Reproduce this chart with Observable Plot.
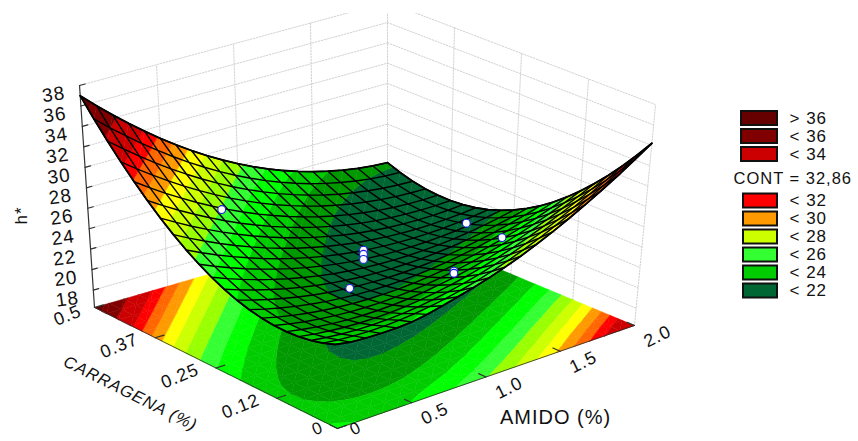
<!DOCTYPE html>
<html><head><meta charset="utf-8">
<style>html,body{margin:0;padding:0;background:#fff}svg{display:block}</style>
<script src="https://cdn.jsdelivr.net/npm/d3@7"></script>
<script src="https://cdn.jsdelivr.net/npm/@observablehq/plot@0.6"></script>
</head><body><div id="c"></div><script>
// h*: rows = carragena 0 .. 0.5, columns = amido 0 .. 2
const hGrid=[
[24.30,24.05,23.95,23.92,23.95,24.05,24.30,24.65,25.04,25.44,25.90,26.43,27.02,27.69,28.42,29.21,30.08,31.01,32.00,33.07,34.20],
[23.87,23.70,23.60,23.56,23.58,23.67,23.82,24.03,24.30,24.64,25.04,25.51,26.04,26.63,27.28,28.00,28.78,29.62,30.53,31.50,32.54],
[23.55,23.36,23.22,23.14,23.13,23.17,23.27,23.43,23.66,23.94,24.28,24.68,25.14,25.66,26.24,26.88,27.58,28.34,29.16,30.04,30.98],
[23.35,23.12,22.95,22.83,22.77,22.77,22.82,22.93,23.10,23.33,23.61,23.94,24.34,24.79,25.30,25.87,26.49,27.17,27.90,28.69,29.54],
[23.26,22.99,22.78,22.62,22.51,22.46,22.47,22.53,22.64,22.81,23.03,23.30,23.63,24.01,24.45,24.94,25.49,26.09,26.74,27.45,28.22],
[23.28,22.97,22.71,22.51,22.36,22.26,22.21,22.21,22.27,22.38,22.54,22.75,23.01,23.33,23.70,24.12,24.59,25.12,25.69,26.32,27.00],
[23.41,23.05,22.75,22.50,22.30,22.15,22.04,21.99,21.99,22.04,22.14,22.29,22.49,22.74,23.04,23.39,23.79,24.24,24.74,25.29,25.90],
[23.65,23.25,22.90,22.59,22.34,22.13,21.98,21.87,21.81,21.80,21.84,21.92,22.06,22.24,22.48,22.76,23.09,23.47,23.90,24.38,24.90],
[24.00,23.55,23.15,22.79,22.48,22.22,22.00,21.84,21.72,21.65,21.62,21.65,21.72,21.84,22.01,22.23,22.49,22.80,23.16,23.57,24.02],
[24.47,23.96,23.50,23.09,22.72,22.40,22.12,21.90,21.72,21.59,21.50,21.47,21.48,21.53,21.64,21.79,21.99,22.23,22.53,22.87,23.26],
[25.05,24.48,23.96,23.48,23.06,22.68,22.34,22.05,21.81,21.62,21.48,21.38,21.32,21.32,21.36,21.45,21.59,21.77,22.00,22.28,22.60],
[25.74,25.11,24.52,23.98,23.49,23.05,22.65,22.30,22.00,21.75,21.54,21.38,21.26,21.20,21.18,21.21,21.28,21.41,21.58,21.79,22.06],
[26.54,25.84,25.19,24.59,24.03,23.52,23.06,22.65,22.28,21.96,21.69,21.47,21.30,21.17,21.09,21.06,21.08,21.14,21.26,21.42,21.62],
[27.46,26.69,25.97,25.29,24.67,24.09,23.56,23.08,22.65,22.27,21.94,21.66,21.42,21.24,21.10,21.01,20.97,20.98,21.04,21.15,21.30],
[28.49,27.64,26.84,26.10,25.40,24.76,24.16,23.62,23.12,22.68,22.28,21.94,21.64,21.40,21.20,21.06,20.97,20.92,20.93,20.99,21.10],
[29.63,28.70,27.83,27.01,26.24,25.52,24.85,24.24,23.68,23.17,22.71,22.31,21.95,21.65,21.40,21.21,21.06,20.97,20.93,20.94,21.00],
[30.88,29.87,28.91,28.02,27.17,26.38,25.64,24.96,24.33,23.76,23.24,22.77,22.36,22.00,21.70,21.45,21.25,21.11,21.03,20.99,21.02],
[32.24,31.14,30.11,29.13,28.20,27.34,26.53,25.77,25.07,24.43,23.85,23.33,22.86,22.44,22.09,21.79,21.55,21.36,21.23,21.16,21.14],
[33.71,32.53,31.40,30.34,29.33,28.39,27.50,26.68,25.91,25.21,24.56,23.97,23.45,22.98,22.57,22.22,21.94,21.71,21.54,21.43,21.38],
[35.30,34.02,32.81,31.65,30.57,29.54,28.58,27.68,26.84,26.07,25.36,24.71,24.13,23.61,23.15,22.76,22.43,22.16,21.95,21.81,21.74],
[37.00,35.62,34.31,33.07,31.90,30.79,29.75,28.77,27.86,27.02,26.25,25.54,24.90,24.33,23.83,23.39,23.02,22.71,22.47,22.30,22.20]];
const n=20;
const zTicks=[18,20,22,24,26,28,30,32,34,36,38];
const amidoTicks=[0,0.5,1,1.5,2], amidoLabels=["0","0.5","1.0","1.5","2.0"];
const carrTicks=[0,0.125,0.25,0.375,0.5], carrLabels=["0","0.12","0.25","0.37","0.5"];
const pAmido=[0.56,1.82,1.72,1.32,1.32,0.58,1,1,1];
const pCarr=[0.4,0.29,0.19,0.165,0.165,0.15,0.25,0.25,0.25];
const pH=[25.8,21.3,22.4,21.5,21.3,23.6,23.2,22.8,22.3];
const levels=[22,23,24,25,26,27,28,29,30,31,32,34,36];
const colors=["#006633","#009900","#00cc00","#00ff00","#33ff33","#99ff00","#ccff00","#ffff00","#ff9900","#ff6600","#ff0000","#cc0000","#800000","#660000"];
const legendLabels=["> 36","< 36","< 34","< 32","< 30","< 28","< 26","< 24","< 22"];
const legendVals=[37,35,33,31.5,29.5,27.5,25.5,23.5,21];
const zFloor=16.3;
const C={f:[337,428],r:[634,325],l:[94,307],b:[387,222]};
const K={f:[-0.3,-10.5],r:[0.97,-10.18],l:[-0.69,-10.23],b:[0,-10.15]};
const bl=(q,u,v,k)=>(1-u)*(1-v)*q.f[k]+u*(1-v)*q.r[k]+(1-u)*v*q.l[k]+u*v*q.b[k];
const proj=(u,v,z)=>[bl(C,u,v,0)+(z-zFloor)*bl(K,u,v,0),bl(C,u,v,1)+(z-zFloor)*bl(K,u,v,1)];
function clip(poly,val,keepAbove){const out=[];for(let i=0;i<poly.length;i++){const a=poly[i],b=poly[(i+1)%poly.length];
 const ia=keepAbove?a[2]>=val:a[2]<=val, ib=keepAbove?b[2]>=val:b[2]<=val;
 if(ia)out.push(a);
 if(ia!==ib){const t=(val-a[2])/(b[2]-a[2]);out.push([a[0]+t*(b[0]-a[0]),a[1]+t*(b[1]-a[1]),val]);}}return out;}
const bounds=[-Infinity,...levels,Infinity];
function pieces(flat){const rows=[];let id=0;
 for(let j=n-1;j>=0;j--)for(let i=n-1;i>=0;i--){
  const P=(a,b)=>[a/n,b/n,hGrid[b][a]];
  const tris=[[P(i,j),P(i+1,j),P(i+1,j+1)],[P(i,j),P(i+1,j+1),P(i,j+1)]];
  for(const t of tris)for(let k=0;k<bounds.length-1;k++){
   let p=t;if(isFinite(bounds[k]))p=clip(p,bounds[k],true);
   if(p.length&&isFinite(bounds[k+1]))p=clip(p,bounds[k+1],false);
   if(p.length<3)continue;
   const mid=k==0?levels[0]-1:k==bounds.length-2?levels[levels.length-1]+1:(bounds[k]+bounds[k+1])/2;
   id++;for(const q of p){const xy=proj(q[0],q[1],flat?zFloor:q[2]);rows.push({id,x:xy[0],y:xy[1],band:mid});}
  }}
 return rows;}
const floorRows=pieces(true), surfRows=pieces(false);
const mesh=[];
for(let a=0;a<=n;a++){for(let b=0;b<=n;b++){let xy=proj(b/n,a/n,hGrid[a][b]);mesh.push({id:"r"+a,x:xy[0],y:xy[1]});}
 for(let b=0;b<=n;b++){let xy=proj(a/n,b/n,hGrid[b][a]);mesh.push({id:"c"+a,x:xy[0],y:xy[1]});}}
const edge=[];
for(let b=0;b<=n;b++){let xy=proj(b/n,0,hGrid[0][b]);edge.push({x:xy[0],y:xy[1]});}
for(let b=0;b<=n;b++){let xy=proj(1,b/n,hGrid[b][n]);edge.push({x:xy[0],y:xy[1]});}
for(let b=n;b>=0;b--){let xy=proj(b/n,1,hGrid[n][b]);edge.push({x:xy[0],y:xy[1]});}
for(let b=n;b>=0;b--){let xy=proj(0,b/n,hGrid[b][0]);edge.push({x:xy[0],y:xy[1]});}
const grid=[];
const seg=(id,a,b)=>{grid.push({id,x:a[0],y:a[1]},{id,x:b[0],y:b[1]});};
for(const z of zTicks){seg("a"+z,proj(0,1,z),proj(1,1,z));seg("b"+z,proj(1,1,z),proj(1,0,z));}
for(const t of [0.25,0.5,0.75]){seg("c"+t,proj(t,1,zFloor),proj(t,1,38));seg("d"+t,proj(1,t,zFloor),proj(1,t,38));}
seg("e",proj(1,1,zFloor),proj(1,1,38));seg("g",proj(1,0,zFloor),proj(1,0,38));
const lseg=[];const ls=(id,a,b)=>{lseg.push({id,x:a[0],y:a[1]},{id,x:b[0],y:b[1]});};
ls("ax",proj(0,1,zFloor),proj(0,1,38));
for(const z of zTicks)ls("t"+z,proj(0,1,z),proj(0.018,1,z));
for(const a of amidoTicks)ls("ta"+a,proj(a/2,0,zFloor),proj(a/2,0.03,zFloor));
for(const c of carrTicks)ls("tc"+c,proj(0,c/0.5,zFloor),proj(0.03,c/0.5,zFloor));
const fe=[];const fs=(id,a,b)=>{fe.push({id,x:a[0],y:a[1]},{id,x:b[0],y:b[1]});};
fs("a",proj(0,1,zFloor),proj(0,0,zFloor));fs("b",proj(0,0,zFloor),proj(1,0,zFloor));
const zt=zTicks.map(z=>{const p=proj(0,1,z);return{x:p[0],y:p[1],t:String(z)}});
const at=amidoTicks.map((a,i)=>{const p=proj(a/2,0,zFloor);return{x:p[0],y:p[1],t:amidoLabels[i]}});
const ct=carrTicks.map((c,i)=>{const p=proj(0,c/0.5,zFloor);return{x:p[0],y:p[1],t:carrLabels[i]}});
const pts=pAmido.map((a,i)=>{const p=proj(a/2,pCarr[i]/0.5,pH[i]);return{x:p[0],y:p[1]}});
const lg=legendLabels.map((t,i)=>{const y=i<3?118+i*18:200.5+(i-3)*18;return{t,y,v:legendVals[i],x1:i<3?741:743}});
const font="Liberation Sans, Arial, sans-serif";
const chart=Plot.plot({width:858,height:441,margin:0,
 x:{domain:[0,858],range:[0,858],axis:null},y:{domain:[0,441],range:[0,441],axis:null},
 color:{type:"threshold",domain:levels,range:colors},style:{fontFamily:font,background:"#fff",letterSpacing:"1px"},
 marks:[
  Plot.line(grid,{x:"x",y:"y",z:"id",stroke:"#d2d2d2",strokeWidth:1,strokeDasharray:"1.5,1.5"}),
  Plot.rect([0],{x1:()=>0,x2:()=>858,y1:()=>0,y2:()=>13,fill:"#fff"}),
  Plot.line(floorRows,{x:"x",y:"y",z:"id",fill:"band",stroke:"band",strokeWidth:0.5,curve:"linear-closed"}),
  Plot.line(fe,{x:"x",y:"y",z:"id",stroke:"#222",strokeWidth:0.8}),
  Plot.line(lseg,{x:"x",y:"y",z:"id",stroke:"#333",strokeWidth:1.2}),
  Plot.line(surfRows,{x:"x",y:"y",z:"id",fill:"band",stroke:"band",strokeWidth:0.5,curve:"linear-closed"}),
  Plot.line(mesh,{x:"x",y:"y",z:"id",stroke:"#000",strokeWidth:1.4}),
  Plot.line(edge,{x:"x",y:"y",stroke:"#000",strokeWidth:1.8,curve:"linear-closed"}),
  Plot.dot(pts,{x:"x",y:"y",r:3.9,fill:"#fff",stroke:"#1a1ae0",strokeWidth:1.1}),
  Plot.text(zt,{x:"x",y:"y",text:"t",dx:-26,dy:9,fontSize:19,rotate:-8,fill:"#111"}),
  Plot.text(at.slice(1),{x:"x",y:"y",text:"t",dx:23,dy:11,fontSize:18,rotate:-26,fill:"#111"}),
  Plot.text(at.slice(0,1),{x:"x",y:"y",text:"t",dx:18,dy:0,fontSize:17,rotate:-26,fill:"#111"}),
  Plot.text(ct.slice(1,4),{x:"x",y:"y",text:"t",dx:-36,dy:8,fontSize:18,rotate:-22,fill:"#111"}),
  Plot.text(ct.slice(4),{x:"x",y:"y",text:"t",dx:-27,dy:8,fontSize:18,rotate:-22,fill:"#111"}),
  Plot.text(ct.slice(0,1),{x:"x",y:"y",text:"t",dx:-20,dy:0,fontSize:17,rotate:-22,fill:"#111"}),
  Plot.text(["CARRAGENA (%)"],{x:()=>130,y:()=>393,text:d=>d,fontSize:16.5,rotate:26.6,fontStyle:"italic",fill:"#111"}),
  Plot.text(["AMIDO (%)"],{x:()=>555,y:()=>417,text:d=>d,fontSize:20,fill:"#111"}),
  Plot.text(["h*"],{x:()=>21,y:()=>215,text:d=>d,fontSize:17,rotate:-90,fill:"#111"}),
  Plot.rect(lg,{x1:"x1",x2:()=>777,y1:d=>d.y-7,y2:d=>d.y+7,fill:"v",stroke:"#111",strokeWidth:2}),
  Plot.text(lg,{x:()=>789,y:"y",text:"t",fontSize:17,textAnchor:"start",fill:"#111"}),
  Plot.text(["CONT = 32,86"],{x:()=>733,y:()=>178,text:d=>d,fontSize:16.5,textAnchor:"start",fill:"#111"})
 ]});
document.getElementById("c").appendChild(chart);
</script></body></html>
